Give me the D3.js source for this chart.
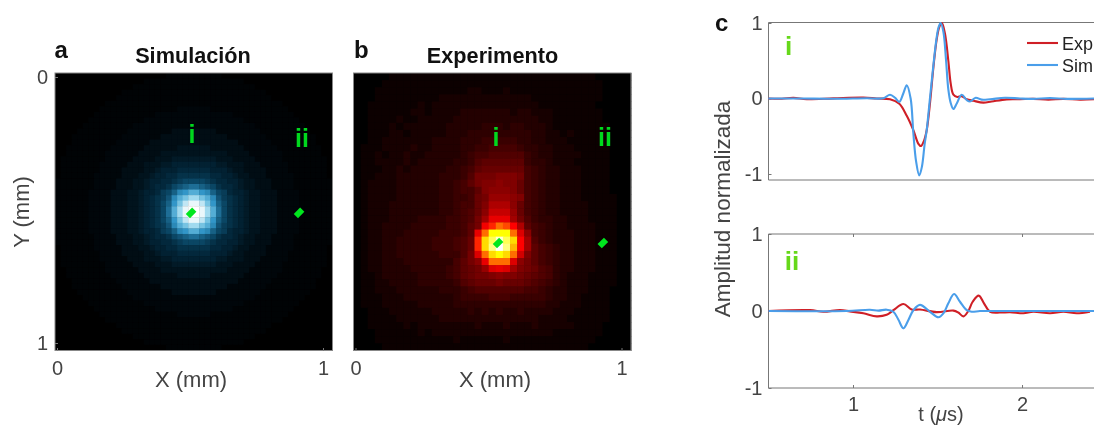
<!DOCTYPE html>
<html>
<head>
<meta charset="utf-8">
<script src="https://cdnjs.cloudflare.com/ajax/libs/d3/7.8.5/d3.min.js"></script>
<style>
  html, body { margin: 0; padding: 0; background: #fff; overflow: hidden; }
  text { font-family: "Liberation Sans", Arial, sans-serif; }
  svg { filter: blur(0.45px); }
</style>
</head>
<body>
<div id="chart"></div>
<script>
// Heatmap cells, one character per cell, base 36 (0 = dark, z = brightest)
// Spaces in the rows are only there to keep them readable
var simRows = [
"0000000000000000000011111 11111000000000000000000000",
"0000000000000000111111111 111111111000000000000000 0",
"0000000000000011111111111 111111111110000000000000 0",
"0000000000001111111111111 111111111111100000000000 0",
"0000000000011111111111111 111111111111110000000000 0",
"0000000001111111111111111 111111111111111100000000 0",
"0000000011111111111111222 222111111111111110000000 0",
"0000000111111111112222222 222222211111111111000000 0",
"0000001111111111222222222 222222222111111111100000 0",
"0000011111111122222222222 222222222221111111110000 0",
"0000111111111222222223333 333322222222111111111000 0",
"0001111111112222222333333 333333222222211111111100 0",
"0001111111122222233333333 333333332222221111111100 0",
"0011111111222222333333444 444333333222222111111110 0",
"0011111112222223333444444 444444333322222211111110 0",
"0111111112222233334445555 555544433332222211111111 0",
"0111111122222333444556666 666655444333222221111111 0",
"0111111122223333445666777 777666544333322221111111 0",
"0111111222223334456677888 888776654433322222111111 0",
"1111111222233344566778 9aa aa98776654433322221111111",
"111111122223334456778abcd dcba877654433322221111111",
"11111122223334456679acfgj jgfca97665443332222111111",
"11111122223334456789bfjmq qmjfb98765443332222111111",
"1111112222333445678acgmtx xtmgca8765443332222111111",
"1111112222333445678adjqxz zxqjda8765443332222111111",
"1111112222333445678adjqxz zxqjda8765443332222111111",
"1111112222333445678acgmtx xtmgca8765443332222111111",
"11111122223334456789bfjmq qmjfb98765443332222111111",
"11111122223334456679acfgj jgfca97665443332222111111",
"111111122223334456778abcd dcba877654433322221111111",
"1111111222233344566778 9aa aa98776654433322221111111",
"0111111222223334456677888 888776654433322222111111 0",
"0111111122223333445666777 777666544333322221111111 0",
"0111111122222333444556666 666655444333222221111111 0",
"0111111112222233334445555 555544433332222211111111 0",
"0011111112222223333444444 444444333322222211111110 0",
"0011111111222222333333444 444333333222222111111110 0",
"0001111111122222233333333 333333332222221111111100 0",
"0001111111112222222333333 333333222222211111111100 0",
"0000111111111222222223333 333322222222111111111000 0",
"0000011111111122222222222 222222222221111111110000 0",
"0000001111111111222222222 222222222111111111100000 0",
"0000000111111111112222222 222222211111111111000000 0",
"0000000011111111111111222 222111111111111110000000 0",
"0000000001111111111111111 111111111111111100000000 0",
"0000000000011111111111111 111111111111110000000000 0",
"0000000000001111111111111 111111111111100000000000 0",
"0000000000000011111111111 111111111110000000000000 0",
"0000000000000000111111111 111111111000000000000000 0",
"0000000000000000000011111 11111000000000000000000000"
];

var expRows = [
"0000011111 1111111111 1111111111 111100000",
"0000111111 1111111111 1111111111 111110000",
"0001111111 1111112211 1211111111 111110000",
"0001111111 1122222222 2222211111 111110000",
"0011111112 1222222222 2222221111 111100000",
"0011111122 1222233333 3323322211 111110000",
"0011112112 2222333333 3333332211 111110000",
"0011121222 2223333344 4344333211 111111000",
"0011122122 2223334444 4444433221 211111000",
"0011222222 2333344455 5554433222 111111000",
"0111222232 2333344556 6665443322 211111000",
"0112122322 3333345667 7777543322 221111000",
"0112222323 3333445788 8888544322 211111000",
"0111223233 3334456899 9999654332 221111000",
"0112223333 3344457aaa bbba654332 221111000",
"0122223333 3344568 abb cbb9654332 221111000",
"0122223333 3344566 8bc ccb9654332 221111000",
"0122223333 3344556 9ad ddcb654332 221111100",
"0122233333 3344566 9bf ffc9654332 222111100",
"0122233333 3344567 9ch hhd9654332 222111100",
"0122233334 4445567 aek kkea754433 222111100",
"0122333344 4445568 aln pomf865433 222211100",
"0122333444 445556 8kpt ttpjc65433 322211100",
"0122334444 4555679nsv yvsme75433 322211100",
"0122334444 4555679nsw zwrme86543 322211100",
"0122334444 44555 7ajps tspib86543 322211100",
"0122333444 44446 8ackp ppjca86543 322211100",
"0122333344 4445689adj kjeba97643 322211100",
"0112333334 444568 9aab cbba987643 222111100",
"0112233334 4444578999 a999876543 222111100",
"0112223333 3344456777 7777665433 222111000",
"0111222333 3333455556 6655555433 221111000",
"0111222223 3333444444 4444444332 221111000",
"0011122222 2333334343 4334333322 211111000",
"0011112222 2233333333 3333332222 111111000",
"0011111212 2222222322 2322232222 211110000",
"0001111112 1222222222 2222222211 111110000",
"0001111111 1111211111 1211111111 111100000",
"0000111111 1111111111 1111111111 111000000"
];

// Marker and label positions in mm (X, Y), for the points i and ii
var simMarkerX = [0.504, 0.91];
var simMarkerY = [0.511, 0.511];
var expMarkerX = [0.536, 0.93];
var expMarkerY = [0.624, 0.624];
var pointNames = ["i", "ii"];

// Traces for panel c, time in microseconds and normalised amplitude
var simTimeI = [0.499,0.686,0.884,1.081,1.179,1.219,1.249,1.274,1.298,1.318,1.341,1.357,1.373,1.392,1.408,1.424,1.436,1.456,1.475,1.495,1.507,1.519,1.535,1.55,1.564,1.578,1.594,1.613,1.643,1.673,1.692,1.726,1.761,1.811,1.899,1.988,2.067,2.166,2.264,2.426];
var simAmpI = [0,0,-0.004,0.004,0.004,0.05,0.01,-0.044,0.07,0.176,0,-0.46,-0.83,-1.02,-0.9,-0.6,-0.42,0.02,0.43,0.81,0.95,1,0.88,0.52,0.12,-0.06,-0.14,-0.07,0.05,-0.02,-0.04,0.01,-0.015,-0.01,0.01,0,-0.005,0.005,-0.005,0];
var expTimeI = [0.499,0.578,0.647,0.726,0.884,1.061,1.14,1.219,1.274,1.318,1.357,1.387,1.402,1.42,1.436,1.456,1.475,1.495,1.511,1.526,1.544,1.564,1.578,1.594,1.617,1.643,1.673,1.712,1.771,1.82,1.909,1.988,2.067,2.156,2.244,2.343,2.426];
var expAmpI = [0,-0.003,0.008,-0.008,0.002,0.012,0,-0.01,-0.07,-0.23,-0.42,-0.6,-0.63,-0.56,-0.42,-0.05,0.4,0.78,0.95,1,0.86,0.5,0.2,0.05,0.02,0.03,-0.01,-0.03,-0.055,-0.04,-0.012,-0.01,-0.005,-0.015,-0.005,-0.015,-0.01];

var simTimeII = [0.5,0.963,1.1,1.15,1.199,1.239,1.268,1.298,1.327,1.357,1.396,1.456,1.505,1.535,1.564,1.598,1.633,1.673,1.702,1.751,1.83,2.43];
var simAmpII = [0,0,0.017,0.005,0.017,-0.01,-0.11,-0.225,-0.12,0.01,0.08,-0.01,-0.082,-0.03,0.1,0.22,0.12,0.01,-0.01,0,0,0];
var expTimeII = [0.5,0.746,0.824,0.923,0.982,1.061,1.14,1.199,1.239,1.298,1.347,1.396,1.495,1.594,1.623,1.653,1.682,1.708,1.744,1.775,1.811,1.87,1.929,2.008,2.067,2.166,2.245,2.323,2.402];
var expAmpII = [0,0.012,-0.01,0.012,-0.005,-0.03,-0.07,-0.05,0.01,0.09,0.02,0.02,-0.015,0.005,-0.02,-0.07,0,0.12,0.2,0.1,-0.01,-0.02,-0.015,-0.03,-0.01,-0.03,-0.01,-0.03,-0.01];

var legendNames = ["Exp", "Sim"];

var svg = d3.select("#chart")
    .append("svg")
    .attr("width", 1094)
    .attr("height", 425);

var grey = "#444";
var frameGrey = "#777";

// Colour maps
var simColor = d3.scaleLinear()
    .domain([0, 2, 4, 7, 10, 16, 24, 35])
    .range(["#000000", "#00060a", "#01131d", "#03283c", "#0a4664", "#3296c8", "#8cd2eb", "#ffffff"])
    .clamp(true);

var expColor = d3.scaleLinear()
    .domain([0, 22, 29, 35])
    .range(["#000000", "#ff0000", "#ffff00", "#ffffff"])
    .clamp(true);

function heatmap(opt) {
    var rowData = opt.rows.map(r => r.replace(/ /g, ""));
    var n = rowData.length;
    var cols = d3.scaleBand().domain(d3.range(n)).range([opt.left, opt.left + 277.5]);
    var rows = d3.scaleBand().domain(d3.range(n)).range([73, 350.5]);

    var cells = [];
    rowData.forEach(function (row, r) {
        row.split("").slice(0, n).forEach(function (c, k) {
            cells.push({ r: r, k: k, v: parseInt(c, 36) });
        });
    });

    var g = svg.append("g");

    g.append("rect")
        .attr("x", opt.left).attr("y", 73)
        .attr("width", 277.5).attr("height", 277.5)
        .attr("fill", "#000");

    g.selectAll("rect.cell")
        .data(cells)
        .enter()
        .append("rect")
        .attr("class", "cell")
        .attr("x", d => cols(d.k))
        .attr("y", d => rows(d.r))
        .attr("width", cols.bandwidth() + 0.4)
        .attr("height", rows.bandwidth() + 0.4)
        .attr("fill", d => opt.color(d.v));

    g.append("rect")
        .attr("x", opt.left).attr("y", 73)
        .attr("width", 277.5).attr("height", 277.5)
        .attr("fill", "none")
        .attr("stroke", "#888");

    var x = d3.scaleLinear().domain([0, 1]).range([opt.left + 2, opt.left + 268]);
    var y = d3.scaleLinear().domain([0, 1]).range([77, 343]);

    var xAxis = g.append("g")
        .attr("transform", "translate(0,351)")
        .call(d3.axisBottom(x).tickValues([0, 1]).tickFormat(d3.format("d")).tickSizeInner(-3).tickSizeOuter(0).tickPadding(10));
    styleAxis(xAxis);

    if (opt.showY) {
        var yAxis = g.append("g")
            .attr("transform", "translate(" + opt.left + ",0)")
            .call(d3.axisLeft(y).tickValues([0, 1]).tickFormat(d3.format("d")).tickSizeInner(-3).tickSizeOuter(0).tickPadding(7));
        styleAxis(yAxis);
    }

    // Green markers on the points i and ii
    g.selectAll("rect.marker")
        .data(opt.markerX)
        .enter()
        .append("rect")
        .attr("class", "marker")
        .attr("x", -4.5)
        .attr("y", -3)
        .attr("width", 9)
        .attr("height", 6)
        .attr("fill", "#00e61e")
        .attr("transform", (d, i) => "translate(" + x(d) + "," + y(opt.markerY[i]) + ") rotate(-45)");

    g.selectAll("text.point")
        .data(pointNames)
        .enter()
        .append("text")
        .attr("class", "point")
        .attr("x", (d, i) => opt.labelX[i])
        .attr("y", (d, i) => opt.labelY[i])
        .attr("text-anchor", "middle")
        .attr("font-size", "25px")
        .attr("font-weight", "700")
        .attr("fill", "#00d81e")
        .text(d => d);

    g.append("text")
        .attr("x", opt.titleX).attr("y", 63)
        .attr("text-anchor", "middle")
        .attr("font-size", "21.7px")
        .attr("font-weight", "700")
        .attr("fill", "#111")
        .text(opt.title);

    g.append("text")
        .attr("x", opt.letterX).attr("y", 58)
        .attr("font-size", "24px")
        .attr("font-weight", "700")
        .attr("fill", "#111")
        .text(opt.letter);

    g.append("text")
        .attr("x", opt.xLabelX).attr("y", 387)
        .attr("text-anchor", "middle")
        .attr("font-size", "22px")
        .attr("fill", grey)
        .text("X (mm)");
}

function styleAxis(axis) {
    axis.select(".domain").remove();
    axis.selectAll("line").attr("stroke", frameGrey);
    axis.selectAll("text")
        .attr("font-family", "Liberation Sans")
        .attr("font-size", "20px")
        .attr("fill", grey);
}

heatmap({
    rows: simRows, color: simColor, left: 55, showY: true,
    markerX: simMarkerX, markerY: simMarkerY,
    labelX: [192, 302], labelY: [143, 147],
    title: "Simulación", titleX: 193, letter: "a", letterX: 54.5, xLabelX: 191
});

heatmap({
    rows: expRows, color: expColor, left: 353.5, showY: false,
    markerX: expMarkerX, markerY: expMarkerY,
    labelX: [496, 605], labelY: [146, 146],
    title: "Experimento", titleX: 492.5, letter: "b", letterX: 354, xLabelX: 495
});

svg.append("text")
    .attr("x", 715).attr("y", 31)
    .attr("font-size", "24px")
    .attr("font-weight", "700")
    .attr("fill", "#111")
    .text("c");

svg.append("text")
    .attr("transform", "translate(29,212) rotate(-90)")
    .attr("text-anchor", "middle")
    .attr("font-size", "22px")
    .attr("fill", grey)
    .text("Y (mm)");

// Panel c, two stacked traces
var tScale = d3.scaleLinear().domain([0.5, 2.43]).range([768.5, 1094.7]);

function tracePanel(opt) {
    var y = d3.scaleLinear().domain([1, -1]).range([opt.yOne, opt.yMinusOne]);
    var g = svg.append("g");

    var yAxis = g.append("g")
        .attr("transform", "translate(768.5,0)")
        .call(d3.axisLeft(y).tickValues([-1, 0, 1]).tickFormat(d3.format("d")).tickSizeInner(-3).tickSizeOuter(0).tickPadding(6));
    styleAxis(yAxis);
    yAxis.selectAll("text").text(d => d);

    g.selectAll("line.edge")
        .data([opt.top, opt.bottom])
        .enter()
        .append("line")
        .attr("class", "edge")
        .attr("x1", 768.5).attr("x2", 1094)
        .attr("y1", d => d).attr("y2", d => d)
        .attr("stroke", frameGrey);

    g.append("line")
        .attr("x1", 768.5).attr("x2", 768.5)
        .attr("y1", opt.top).attr("y2", opt.bottom)
        .attr("stroke", frameGrey);

    var line = d3.line()
        .x(d => tScale(d[0]))
        .y(d => y(d[1]))
        .curve(d3.curveCatmullRom.alpha(0.5));

    g.append("path")
        .attr("d", line(d3.zip(opt.expT, opt.expA)))
        .attr("fill", "none")
        .attr("stroke", "#cf1f26")
        .attr("stroke-width", 2.1);

    g.append("path")
        .attr("d", line(d3.zip(opt.simT, opt.simA)))
        .attr("fill", "none")
        .attr("stroke", "#4a9eea")
        .attr("stroke-width", 2.1);

    g.append("text")
        .attr("x", opt.nameX).attr("y", opt.nameY)
        .attr("text-anchor", "middle")
        .attr("font-size", "26px")
        .attr("font-weight", "700")
        .attr("fill", "#66d81a")
        .text(opt.name);

    return g;
}

tracePanel({
    yOne: 23, yMinusOne: 174, top: 22.5, bottom: 180,
    simT: simTimeI, simA: simAmpI, expT: expTimeI, expA: expAmpI,
    name: pointNames[0], nameX: 788.5, nameY: 55
});

var lower = tracePanel({
    yOne: 234, yMinusOne: 388, top: 234, bottom: 388,
    simT: simTimeII, simA: simAmpII, expT: expTimeII, expA: expAmpII,
    name: pointNames[1], nameX: 792, nameY: 270
});

// Time axis, drawn on the lower panel
var tAxis = lower.append("g")
    .attr("transform", "translate(0,388)")
    .call(d3.axisBottom(tScale).tickValues([1, 2]).tickFormat(d3.format("d")).tickSizeInner(-3).tickSizeOuter(0).tickPadding(9));
styleAxis(tAxis);

lower.append("g")
    .attr("transform", "translate(0,234)")
    .call(d3.axisTop(tScale).tickValues([1, 2]).tickFormat("").tickSizeInner(-3).tickSizeOuter(0))
    .call(styleAxis);

// Legend
var legend = svg.append("g");
legend.selectAll("line")
    .data(legendNames)
    .enter()
    .append("line")
    .attr("x1", 1027).attr("x2", 1058)
    .attr("y1", (d, i) => 43 + i * 22)
    .attr("y2", (d, i) => 43 + i * 22)
    .attr("stroke", (d, i) => i == 0 ? "#cf1f26" : "#4a9eea")
    .attr("stroke-width", 2.1);
legend.selectAll("text")
    .data(legendNames)
    .enter()
    .append("text")
    .attr("x", 1062)
    .attr("y", (d, i) => 50 + i * 22)
    .attr("font-size", "18px")
    .attr("fill", "#222")
    .text(d => d);

svg.append("text")
    .attr("transform", "translate(730,209) rotate(-90)")
    .attr("text-anchor", "middle")
    .attr("font-size", "22.5px")
    .attr("fill", grey)
    .text("Amplitud normalizada");

var tLabel = svg.append("text")
    .attr("x", 941).attr("y", 420.5)
    .attr("text-anchor", "middle")
    .attr("font-size", "20px")
    .attr("fill", grey);
tLabel.append("tspan").text("t (");
tLabel.append("tspan").attr("font-style", "italic").text("μ");
tLabel.append("tspan").text("s)");
</script>
</body>
</html>
